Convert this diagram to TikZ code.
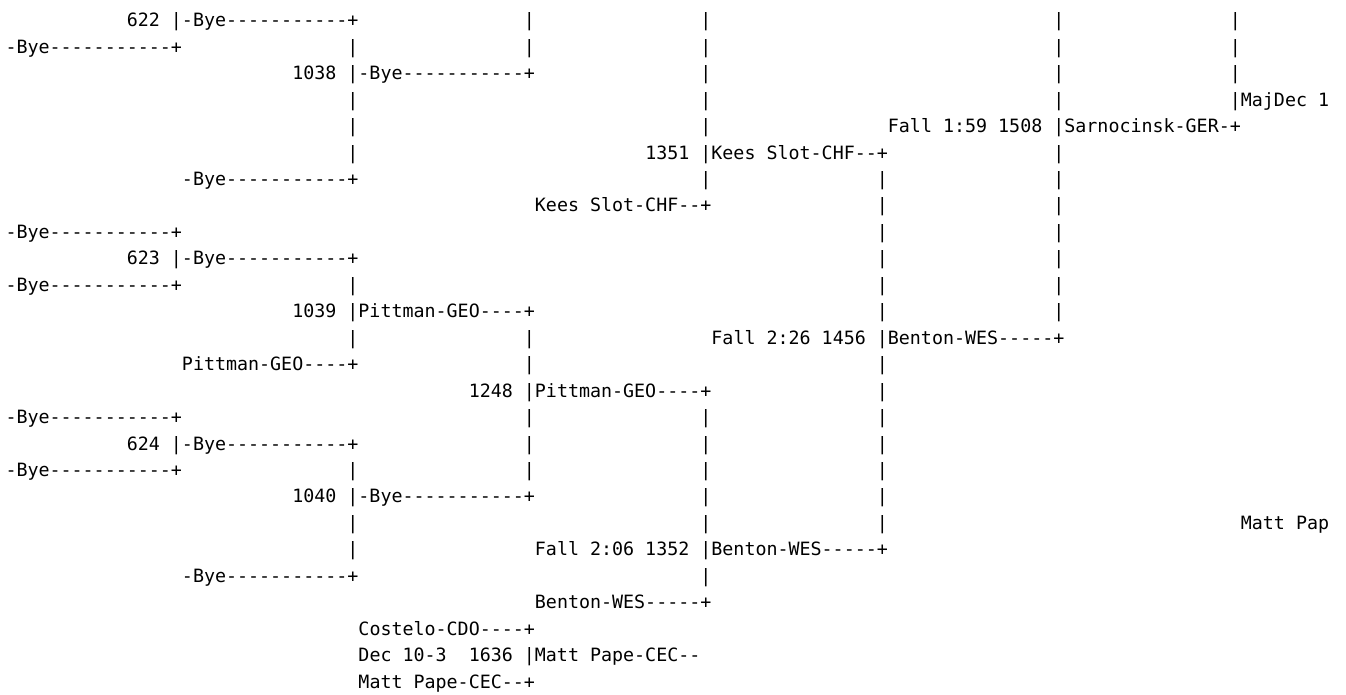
\documentclass[tikz,border=0pt]{standalone}
\usepackage{fontspec}
\setmonofont{DejaVu Sans Mono}
\usepackage{tikz}

\tikzset{
  cell/.style={anchor=base west, inner sep=0pt, outer sep=0pt, text=black,
    font=\ttfamily\fontsize{13.74pt}{19.84pt}\selectfont}
}

\begin{document}
\begin{tikzpicture}[x=8.2725pt, y=-19.8375pt, every node/.style={cell}]
            \useasboundingbox (-0.499,-1.013) rectangle (121.53,25.225);

            % row 0 - 2
            \node (m622) at (11,0) {622 |-Bye-----------+};
            \node (b0a) at (47,0) {|}; \node (b0b) at (63,0) {|}; \node (b0c) at (95,0) {|}; \node (b0d) at (111,0) {|};
            \node (bye1) at (0,1) {-Bye-----------+};
            \node (b1a) at (31,1) {|}; \node (b1b) at (47,1) {|}; \node (b1c) at (63,1) {|}; \node (b1d) at (95,1) {|}; \node (b1e) at (111,1) {|};
            \node (m1038) at (26,2) {1038 |-Bye-----------+};
            \node (b2a) at (63,2) {|}; \node (b2b) at (95,2) {|}; \node (b2c) at (111,2) {|};

            % row 3 - 7
            \node (b3a) at (31,3) {|}; \node (b3b) at (63,3) {|}; \node (b3c) at (95,3) {|};
            \node (final) at (111,3) {|MajDec 1};
            \node (b4a) at (31,4) {|}; \node (b4b) at (63,4) {|};
            \node (m1508) at (80,4) {Fall 1:59 1508 |Sarnocinsk-GER-+};
            \node (b5a) at (31,5) {|};
            \node (m1351) at (58,5) {1351 |Kees Slot-CHF--+};
            \node (b5b) at (95,5) {|};
            \node (bye2) at (16,6) {-Bye-----------+};
            \node (b6a) at (63,6) {|}; \node (b6b) at (79,6) {|}; \node (b6c) at (95,6) {|};
            \node (kees) at (48,7) {Kees Slot-CHF--+};
            \node (b7a) at (79,7) {|}; \node (b7b) at (95,7) {|};

            % row 8 - 14
            \node (bye3) at (0,8) {-Bye-----------+};
            \node (b8a) at (79,8) {|}; \node (b8b) at (95,8) {|};
            \node (m623) at (11,9) {623 |-Bye-----------+};
            \node (b9a) at (79,9) {|}; \node (b9b) at (95,9) {|};
            \node (bye4) at (0,10) {-Bye-----------+};
            \node (b10a) at (31,10) {|}; \node (b10b) at (79,10) {|}; \node (b10c) at (95,10) {|};
            \node (m1039) at (26,11) {1039 |Pittman-GEO----+};
            \node (b11a) at (79,11) {|}; \node (b11b) at (95,11) {|};
            \node (b12a) at (31,12) {|}; \node (b12b) at (47,12) {|};
            \node (m1456) at (64,12) {Fall 2:26 1456 |Benton-WES-----+};
            \node (pitt) at (16,13) {Pittman-GEO----+};
            \node (b13a) at (47,13) {|}; \node (b13b) at (79,13) {|};
            \node (m1248) at (42,14) {1248 |Pittman-GEO----+};
            \node (b14a) at (79,14) {|};

            % row 15 - 22
            \node (bye5) at (0,15) {-Bye-----------+};
            \node (b15a) at (47,15) {|}; \node (b15b) at (63,15) {|}; \node (b15c) at (79,15) {|};
            \node (m624) at (11,16) {624 |-Bye-----------+};
            \node (b16a) at (47,16) {|}; \node (b16b) at (63,16) {|}; \node (b16c) at (79,16) {|};
            \node (bye6) at (0,17) {-Bye-----------+};
            \node (b17a) at (31,17) {|}; \node (b17b) at (47,17) {|}; \node (b17c) at (63,17) {|}; \node (b17d) at (79,17) {|};
            \node (m1040) at (26,18) {1040 |-Bye-----------+};
            \node (b18a) at (63,18) {|}; \node (b18b) at (79,18) {|};
            \node (b19a) at (31,19) {|}; \node (b19b) at (63,19) {|}; \node (b19c) at (79,19) {|};
            \node (champ) at (112,19) {Matt Pap};
            \node (b20a) at (31,20) {|};
            \node (m1352) at (48,20) {Fall 2:06 1352 |Benton-WES-----+};
            \node (bye7) at (16,21) {-Bye-----------+};
            \node (b21a) at (63,21) {|};
            \node (benton) at (48,22) {Benton-WES-----+};

            % consolation
            \node (cost) at (32,23) {Costelo-CDO----+};
            \node (m1636) at (32,24) {Dec 10-3~~1636 |Matt Pape-CEC--};
            \node (pape) at (32,25) {Matt Pape-CEC--+};
        \end{tikzpicture}
\end{document}
